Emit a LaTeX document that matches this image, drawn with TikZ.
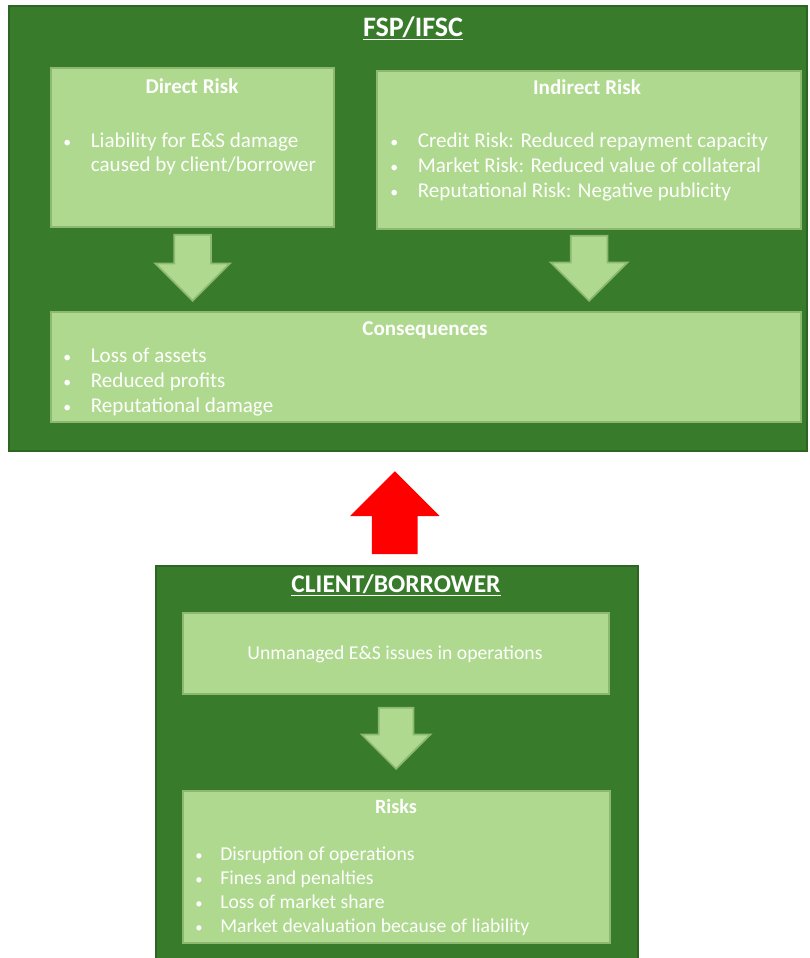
\documentclass[tikz,border=0pt]{standalone}
\usepackage{fontspec}
\setmainfont{Carlito}
\usepackage{tikz}
\usetikzlibrary{shapes.arrows}
\usetikzlibrary{calc}
\definecolor{darkgreen}{HTML}{387C2B}
\definecolor{darkgreenline}{HTML}{2C6622}
\definecolor{lightgreen}{HTML}{AED98E}
\definecolor{lightgreenline}{HTML}{8DB870}
\newcommand{\itm}{\makebox[0.55cm][l]{\scalebox{0.75}{\textbullet}}}
\newcommand{\itmsmall}{\makebox[0.5cm][l]{\scalebox{0.75}{\textbullet}}}

\begin{document}
\begin{tikzpicture}[
	x=0.02cm, y=-0.02cm
]
\tikzset{
    outerbox/.style = {rectangle, draw=darkgreenline, fill=darkgreen, anchor=north west, line width=1pt},
    innerbox/.style = {rectangle, draw=lightgreenline, fill=lightgreen, anchor=north west, line width=1.2pt},
    bigtitle/.style = {anchor=base, inner sep=0, text=white, font=\fontsize{14.5}{17}\selectfont\bfseries},
    boxtitle/.style = {anchor=base, inner sep=0, text=white, font=\fontsize{12}{14}\selectfont\bfseries},
    itemtext/.style = {anchor=base west, inner sep=0, text=white, font=\fontsize{12}{14}\selectfont},
    smalltext/.style = {itemtext, font=\fontsize{11.2}{13}\selectfont},
    fatarrow/.style = {single arrow, draw=lightgreenline, fill=lightgreen, line width=1pt, inner xsep=0pt, anchor=tip}
}
\useasboundingbox (0,0) rectangle (810,958);

% FSP/IFSC
\node[outerbox,minimum width=15.96cm,minimum height=8.9cm] (fsp) at (8,5) {};
\node[bigtitle,font=\fontsize{16}{18}\selectfont\bfseries] (fsptitle) at (413,36) {\underline{FSP/IFSC}};

\node[innerbox,minimum width=5.66cm,minimum height=3.18cm] (dr) at (50,67) {};
\node[boxtitle] (drtitle) at (192,93) {Direct Risk};
\node[itemtext] (dr1) at (63,147) {\itm Liability for E\&S damage};
\node[itemtext] (dr2) at (63,171) {\hspace*{0.55cm}caused by client/borrower};

\node[innerbox,minimum width=8.48cm,minimum height=3.16cm] (ir) at (376,70) {};
\node[boxtitle] (irtitle) at (587,94) {Indirect Risk};
\node[itemtext] (ir1) at (390,147) {\itm Credit Risk: Reduced repayment capacity};
\node[itemtext] (ir2) at (390,172) {\itm Market Risk: Reduced value of collateral};
\node[itemtext] (ir3) at (390,197) {\itm Reputational Risk: Negative publicity};

\node[innerbox,minimum width=15.0cm,minimum height=2.2cm] (cons) at (50,311) {};
\node[boxtitle] (constitle) at (425,335) {Consequences};
\node[itemtext] (cons1) at (63,362) {\itm Loss of assets};
\node[itemtext] (cons2) at (63,387) {\itm Reduced profits};
\node[itemtext] (cons3) at (63,412) {\itm Reputational damage};

\node[fatarrow,rotate=-90,inner ysep=0.35cm,single arrow head extend=0.38cm,minimum height=1.32cm]
  (dra) at ($(dr.south |- cons.north)+(0,-9)$) {};
\node[fatarrow,rotate=-90,inner ysep=0.35cm,single arrow head extend=0.4cm,minimum height=1.3cm]
  (ira) at ($(ir.south |- cons.north)+(0,-9)$) {};

% CLIENT/BORROWER
\node[outerbox,minimum width=9.64cm,minimum height=7.94cm] (cb) at (155,565) {};
\node[bigtitle] (cbtitle) at (396,592) {\underline{CLIENT/BORROWER}};

\node[innerbox,minimum width=8.52cm,minimum height=1.62cm] (um) at (182,612) {};
\node[smalltext,anchor=base] (umtext) at (395,659) {Unmanaged E\&S issues in operations};

\node[innerbox,minimum width=8.54cm,minimum height=3.04cm] (rk) at (182,790) {};
\node[boxtitle,font=\fontsize{11.5}{13}\selectfont\bfseries] (rktitle) at (396,813) {Risks};
\node[smalltext] (rk1) at (195,860) {\itmsmall Disruption of operations};
\node[smalltext] (rk2) at (195,884) {\itmsmall Fines and penalties};
\node[smalltext] (rk3) at (195,908) {\itmsmall Loss of market share};
\node[smalltext] (rk4) at (195,932) {\itmsmall Market devaluation because of liability};

\node[fatarrow,rotate=-90,inner ysep=0.33cm,single arrow head extend=0.34cm,minimum height=1.22cm]
  (uma) at ($(um.south |- rk.north)+(0,-20)$) {};

% red arrow between the two
\node[fatarrow,draw=none,fill=red,rotate=90,inner ysep=0.44cm,single arrow head extend=0.44cm,minimum height=1.66cm]
  (cba) at ($(cb.north)+(-2,-95)$) {};
\end{tikzpicture}
\end{document}
